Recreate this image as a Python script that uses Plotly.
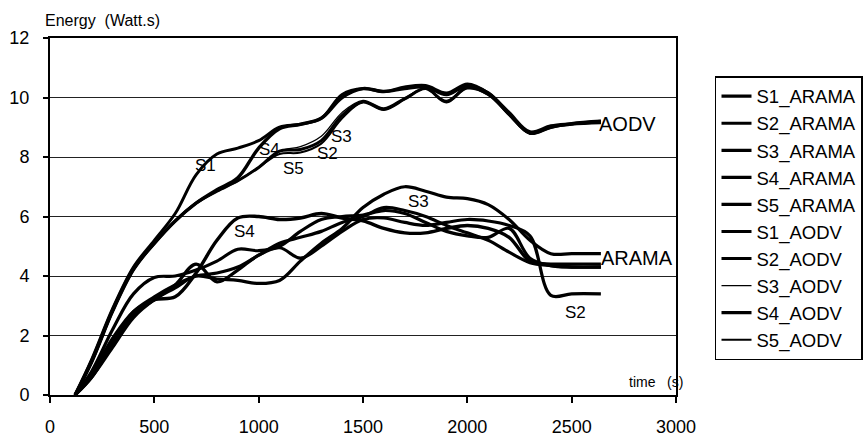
import plotly.graph_objects as go

# ---- data ----
time = [120, 200, 300, 400, 500, 600, 700, 800, 900, 1000, 1100, 1200, 1300,
        1400, 1500, 1600, 1700, 1800, 1900, 2000, 2100, 2200, 2300, 2400, 2500, 2640]

s1_arama = [0, 0.8, 2.2, 3.4, 3.95, 4.0, 4.2, 4.5, 4.9, 4.85, 5.0, 5.5, 5.9, 6.0,
            6.05, 6.2, 6.1, 5.8, 5.5, 5.35, 5.3, 5.6, 4.6, 4.35, 4.3, 4.3]
s2_arama = [0, 0.6, 1.7, 2.7, 3.2, 3.7, 4.4, 3.8, 4.2, 4.7, 4.95, 4.6, 5.0, 5.5,
            5.9, 5.95, 5.8, 5.7, 5.8, 5.9, 5.85, 5.7, 5.35, 3.35, 3.4, 3.4]
s3_arama = [0, 0.6, 1.6, 2.6, 3.2, 3.6, 4.0, 3.9, 3.85, 3.75, 3.85, 4.5, 5.1, 5.6,
            6.3, 6.75, 7.0, 6.85, 6.65, 6.6, 6.4, 5.9, 5.2, 4.75, 4.75, 4.75]
s4_arama = [0, 0.7, 1.9, 2.8, 3.2, 3.3, 4.1, 5.2, 5.95, 6.0, 5.9, 5.95, 6.1, 5.95,
            5.85, 5.6, 5.45, 5.45, 5.6, 5.7, 5.6, 5.3, 4.5, 4.4, 4.4, 4.4]
s5_arama = [0, 0.7, 1.8, 2.8, 3.3, 3.7, 4.0, 4.1, 4.3, 4.7, 5.1, 5.3, 5.5, 5.8,
            6.0, 6.3, 6.2, 6.0, 5.7, 5.45, 5.2, 4.8, 4.45, 4.35, 4.3, 4.3]

s1_aodv = [0, 1.2, 2.9, 4.3, 5.2, 6.1, 7.4, 8.1, 8.3, 8.55, 9.0, 9.1, 9.3, 10.1,
           10.3, 10.2, 10.35, 10.4, 10.15, 10.45, 10.15, 9.5, 8.85, 9.05, 9.12, 9.2]
s2_aodv = [0, 1.1, 2.8, 4.2, 5.1, 5.85, 6.45, 6.85, 7.2, 7.65, 8.2, 8.25, 8.55, 9.4,
           9.85, 9.6, 9.95, 10.3, 9.85, 10.35, 10.1, 9.45, 8.8, 9.0, 9.1, 9.15]
s3_aodv = [0, 1.1, 2.8, 4.2, 5.1, 5.85, 6.45, 6.85, 7.2, 7.65, 8.2, 8.35, 8.7, 9.5,
           9.9, 9.65, 10.0, 10.3, 9.9, 10.35, 10.1, 9.45, 8.8, 9.0, 9.1, 9.15]
s4_aodv = [0, 1.15, 2.85, 4.25, 5.1, 5.85, 6.45, 6.9, 7.3, 8.3, 8.95, 9.1, 9.3, 10.0,
           10.3, 10.2, 10.3, 10.35, 10.1, 10.4, 10.15, 9.45, 8.8, 9.0, 9.12, 9.2]
s5_aodv = [0, 1.1, 2.8, 4.2, 5.1, 5.85, 6.45, 6.85, 7.2, 7.65, 8.1, 8.15, 8.45, 9.3,
           9.85, 9.6, 9.95, 10.3, 9.85, 10.3, 10.1, 9.4, 8.8, 9.0, 9.1, 9.15]

series_names = ["S1_ARAMA", "S2_ARAMA", "S3_ARAMA", "S4_ARAMA", "S5_ARAMA",
                "S1_AODV", "S2_AODV", "S3_AODV", "S4_AODV", "S5_AODV"]
series_values = [s1_arama, s2_arama, s3_arama, s4_arama, s5_arama,
                 s1_aodv, s2_aodv, s3_aodv, s4_aodv, s5_aodv]
line_widths = [3.2, 3.2, 3.2, 3.4, 3.2, 3, 3, 1.3, 3.4, 2]

x_ticks = [0, 500, 1000, 1500, 2000, 2500, 3000]
y_ticks = [0, 2, 4, 6, 8, 10, 12]

# curve labels: (text, time, energy)
curve_labels = [("S1", 743, 7.73), ("S4", 1054, 8.24), ("S5", 1165, 7.63),
                ("S2", 1332, 8.13), ("S3", 1399, 8.7),
                ("S4", 930, 5.48), ("S3", 1764, 6.52), ("S2", 2516, 2.76)]
group_labels = [("AODV", 2622, 9.1), ("ARAMA", 2632, 4.6)]

FONT = "Liberation Sans, Arial, sans-serif"

fig = go.Figure()
for i, (name, vals, w) in enumerate(zip(series_names, series_values, line_widths)):
    fig.add_trace(go.Scatter(
        x=time, y=vals, name=name, mode="lines",
        line=dict(color="black", width=w, shape="spline", smoothing=1.0),
        legendgroup=f"g{i}",
    ))

annotations = []
for txt, t, e in curve_labels:
    annotations.append(dict(x=t, y=e, xref="x", yref="y", text=txt, showarrow=False,
                            font=dict(family=FONT, size=17, color="black")))
for txt, t, e in group_labels:
    annotations.append(dict(x=t, y=e, xref="x", yref="y", text=txt, showarrow=False,
                            xanchor="left", font=dict(family=FONT, size=20, color="black")))
annotations.append(dict(x=-0.0112, y=1.05, xref="paper", yref="paper",
                        text="Energy&nbsp;&nbsp;(Watt.s)", showarrow=False,
                        xanchor="left", yanchor="middle",
                        font=dict(family=FONT, size=16, color="black")))
annotations.append(dict(x=0.9217, y=0.0364, xref="paper", yref="paper",
                        text="time&nbsp;&nbsp;&nbsp;(s)", showarrow=False,
                        xanchor="left", yanchor="middle",
                        font=dict(family=FONT, size=14, color="black")))

fig.update_layout(
    width=863, height=437,
    margin=dict(l=50, r=187, t=38, b=42, autoexpand=False),
    paper_bgcolor="white", plot_bgcolor="white",
    font=dict(family=FONT, color="black"),
    showlegend=True,
    legend=dict(x=1.0623, y=0.893, xanchor="left", yanchor="top",
                bordercolor="black", borderwidth=1.5, bgcolor="white",
                font=dict(family=FONT, size=18.5, color="black"),
                tracegroupgap=0, traceorder="normal"),
    annotations=annotations,
    xaxis=dict(range=[0, 3000], tickvals=x_ticks, showgrid=False, zeroline=False,
               showline=True, linecolor="black", linewidth=2, mirror=True,
               ticks="outside", ticklen=6, tickwidth=1.5, tickcolor="black",
               ticklabelstandoff=8,
               tickfont=dict(family=FONT, size=18, color="black")),
    yaxis=dict(range=[0, 12], tickvals=y_ticks, showgrid=True, gridcolor="#222222",
               gridwidth=1, zeroline=False,
               showline=True, linecolor="black", linewidth=2, mirror=True,
               ticks="outside", ticklen=5, tickwidth=1.5, tickcolor="black",
               ticklabelstandoff=10,
               tickfont=dict(family=FONT, size=18, color="black")),
)

fig.write_html("out.html", config={"displayModeBar": False},
               post_script="document.body.style.margin='0';")
